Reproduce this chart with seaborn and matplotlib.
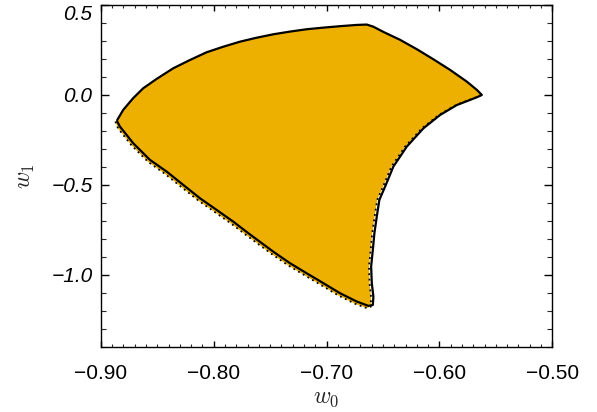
import matplotlib
matplotlib.use("Agg")
import matplotlib.pyplot as plt
from matplotlib.ticker import MultipleLocator, FuncFormatter
import numpy as np
import pandas as pd
import seaborn as sns

# Upper boundary of the confidence region: left tip -> peak -> right tip
upper_w0 = [-0.8855, -0.8802, -0.8714, -0.8625, -0.8506, -0.8359, -0.8211, -0.8063,
            -0.7915, -0.7767, -0.7619, -0.7472, -0.7324, -0.7176, -0.7028, -0.6880,
            -0.6732, -0.6643, -0.6585, -0.6496, -0.6348, -0.6200, -0.6053, -0.5905,
            -0.5757, -0.5668, -0.5624]
upper_w1 = [-0.139, -0.083, -0.018, 0.037, 0.089, 0.148, 0.194, 0.237,
            0.268, 0.296, 0.318, 0.337, 0.352, 0.365, 0.374, 0.382,
            0.389, 0.391, 0.379, 0.350, 0.306, 0.254, 0.198, 0.139,
            0.074, 0.028, 0.000]

# Lower boundary (solid contour): left tip -> bottom corner -> right tip
lower_w0 = [-0.8855, -0.8831, -0.8714, -0.8565, -0.8417, -0.8270, -0.8122, -0.7974,
            -0.7827, -0.7694, -0.7472, -0.7324, -0.7176, -0.7028, -0.6880, -0.6732,
            -0.6629, -0.6590, -0.6585, -0.6599, -0.6605, -0.6590, -0.6576, -0.6555,
            -0.6532, -0.6481, -0.6408, -0.6289, -0.6141, -0.5993, -0.5845, -0.5668,
            -0.5624]
lower_w1 = [-0.148, -0.176, -0.268, -0.361, -0.426, -0.500, -0.574, -0.639,
            -0.704, -0.768, -0.871, -0.935, -0.991, -1.046, -1.102, -1.148,
            -1.172, -1.167, -1.121, -1.046, -0.954, -0.861, -0.768, -0.676,
            -0.583, -0.509, -0.398, -0.287, -0.185, -0.111, -0.056, -0.013,
            0.000]

# Second (dotted) contour, slightly offset along the lower and right edges
dotted_w0 = [-0.8872, -0.8848, -0.8730, -0.8581, -0.8433, -0.8286, -0.8138, -0.7990,
             -0.7843, -0.7710, -0.7488, -0.7340, -0.7192, -0.7044, -0.6896, -0.6748,
             -0.6645, -0.6608, -0.6606, -0.6619, -0.6624, -0.6609, -0.6595, -0.6574,
             -0.6551, -0.6499, -0.6425, -0.6304, -0.6154, -0.6004, -0.5853, -0.5674,
             -0.5624]
dotted_w1 = [-0.148, -0.186, -0.279, -0.372, -0.438, -0.512, -0.586, -0.651,
             -0.716, -0.780, -0.883, -0.947, -1.003, -1.058, -1.114, -1.160,
             -1.184, -1.176, -1.121, -1.046, -0.954, -0.861, -0.768, -0.676,
             -0.583, -0.509, -0.398, -0.287, -0.185, -0.111, -0.056, -0.013,
             0.000]

x_ticks = [-0.90, -0.80, -0.70, -0.60, -0.50]
y_ticks = [-1.0, -0.5, 0.0, 0.5]

FILL = "#EEB000"

sns.set_theme(style="ticks")
plt.rcParams["font.family"] = ["Liberation Sans", "DejaVu Sans"]
plt.rcParams["mathtext.fontset"] = "cm"

fig = plt.figure(figsize=(5.97, 4.12), dpi=100)
ax = fig.add_axes([0.169, 0.158, 0.756, 0.830])

# filled region bounded by the solid upper edge and dotted lower edge
fill_w0 = upper_w0 + dotted_w0[::-1]
fill_w1 = upper_w1 + dotted_w1[::-1]
ax.fill(fill_w0, fill_w1, color=FILL, lw=0, zorder=1)

solid = pd.DataFrame({"w0": upper_w0 + lower_w0[::-1], "w1": upper_w1 + lower_w1[::-1]})
sns.lineplot(data=solid, x="w0", y="w1", sort=False, estimator=None,
             color="black", lw=1.6, ax=ax, zorder=3)

dotted = pd.DataFrame({"w0": dotted_w0, "w1": dotted_w1})
sns.lineplot(data=dotted, x="w0", y="w1", sort=False, estimator=None,
             color="black", lw=1.3, ls=(0, (1, 2)), ax=ax, zorder=2)

ax.set_xlim(-0.9, -0.5)
ax.set_ylim(-1.4, 0.5)
ax.set_xticks(x_ticks)
ax.set_yticks(y_ticks)
ax.xaxis.set_minor_locator(MultipleLocator(0.01))
ax.yaxis.set_minor_locator(MultipleLocator(0.1))


def fmt(decimals):
    def f(v, pos):
        s = f"{abs(v):.{decimals}f}"
        return ("\u2212" + s) if v < -1e-9 else s
    return FuncFormatter(f)


ax.xaxis.set_major_formatter(fmt(2))
ax.yaxis.set_major_formatter(fmt(1))

for s in ax.spines.values():
    s.set_visible(True)
    s.set_linewidth(1.0)
    s.set_color("black")

ax.tick_params(axis="x", which="major", direction="in", length=4.5, width=1.0,
               top=True, bottom=True, labelsize=15, pad=12, colors="black")
ax.tick_params(axis="x", which="minor", direction="in", length=2.5, width=0.8,
               top=True, bottom=True)
ax.tick_params(axis="y", which="major", direction="in", length=6, width=1.0,
               left=True, right=True, labelsize=15, pad=6, colors="black")
ax.tick_params(axis="y", which="minor", direction="in", length=3.5, width=0.8,
               left=True, right=True)

fig.canvas.draw()
ylabels = ax.get_yticklabels()
for lab in ylabels:
    lab.set_fontstyle("italic")
# keep the top label inside the figure
ylabels[-1].set_verticalalignment("top")

ax.set_xlabel(r"$w_0$", fontsize=17, labelpad=3)
ax.set_ylabel(r"$w_1$", fontsize=17, labelpad=10)

fig.savefig("out.png", dpi=100)
